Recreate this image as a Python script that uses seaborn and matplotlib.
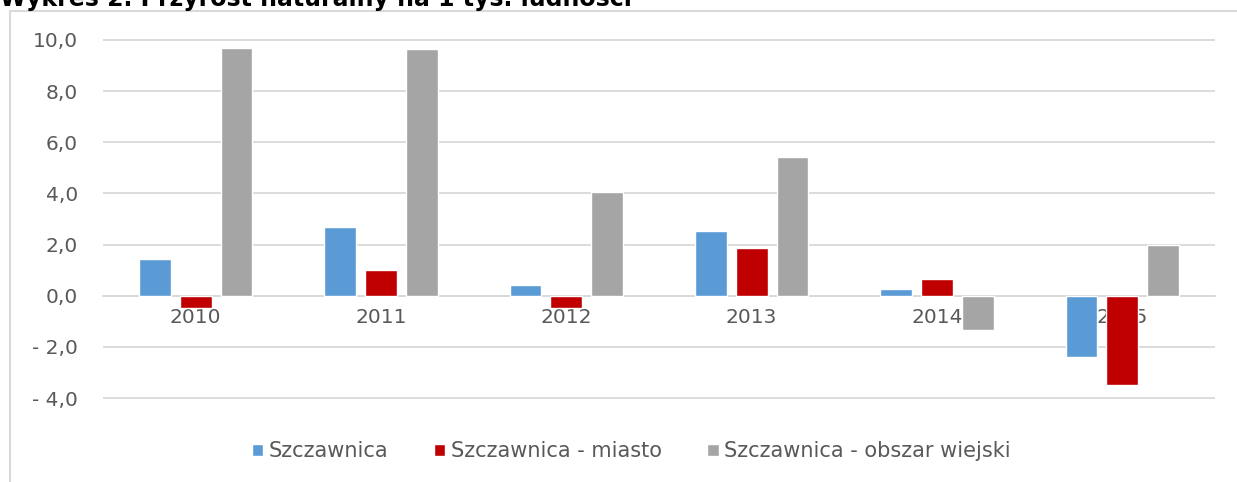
import pandas as pd
import matplotlib
matplotlib.use('Agg')
import matplotlib.pyplot as plt
import seaborn as sns
from matplotlib.patches import Rectangle
from matplotlib.ticker import FuncFormatter

# Dane
lata = ['2010', '2011', '2012', '2013', '2014', '2015']
serie = ['Szczawnica', 'Szczawnica - miasto', 'Szczawnica - obszar wiejski']
szczawnica = [1.45, 2.7, 0.4, 2.55, 0.25, -2.4]
miasto = [-0.47, 1.0, -0.47, 1.87, 0.65, -3.5]
wies = [9.7, 9.65, 4.05, 5.43, -1.33, 1.98]
kolory = ['#5b9bd5', '#c00000', '#a5a5a5']

df = pd.DataFrame({
    'rok': lata * 3,
    'seria': [serie[0]] * 6 + [serie[1]] * 6 + [serie[2]] * 6,
    'wartosc': szczawnica + miasto + wies,
})

sns.set_theme(style='white')
plt.rcParams['font.family'] = ['DejaVu Sans']

fig = plt.figure(figsize=(12.37, 4.82), dpi=100)
ax = fig.add_axes([103 / 1237, 1 - 408 / 482, (1215 - 103) / 1237, (408 - 30) / 482])

sns.barplot(data=df, x='rok', y='wartosc', hue='seria', palette=kolory,
            width=0.66, gap=0.22, saturation=1, ax=ax, legend=True)

ax.set_ylim(-4.39, 10.39)
ax.set_yticks([-4, -2, 0, 2, 4, 6, 8, 10])
ax.yaxis.set_major_formatter(FuncFormatter(
    lambda v, p: ('- ' if v < 0 else '') + f'{abs(v):.1f}'.replace('.', ',')))
ax.grid(axis='y', color='#d9d9d9', linewidth=1.3)
ax.set_axisbelow(True)
for s in ['top', 'right', 'left']:
    ax.spines[s].set_visible(False)
ax.spines['bottom'].set_position(('data', 0))
ax.spines['bottom'].set_color('#d9d9d9')
ax.spines['bottom'].set_linewidth(1.3)
ax.spines['bottom'].set_zorder(0)
ax.tick_params(axis='both', length=0, labelsize=14.5, colors='#595959')
ax.tick_params(axis='x', pad=9)
ax.tick_params(axis='y', pad=18)
ax.set_xlabel('')
ax.set_ylabel('')

ax.legend(loc='center', bbox_to_anchor=(0.475, -0.115), ncol=3, frameon=False,
          fontsize=15, handlelength=0.55, handleheight=0.55, handletextpad=0.25,
          columnspacing=2.2, labelcolor='#595959')

# Ramka wykresu
fig.patches.append(Rectangle((10 / 1237, -0.1), 1.2, 1 - 11 / 482 + 0.1,
                             transform=fig.transFigure, fill=False,
                             edgecolor='#d9d9d9', linewidth=1.5))

fig.text(0, 1 - 6 / 482, 'Wykres 2. Przyrost naturalny na 1 tys. ludności',
         fontsize=17, fontweight='bold', color='#000000', va='baseline', ha='left')

plt.savefig('out.png', dpi=100)
